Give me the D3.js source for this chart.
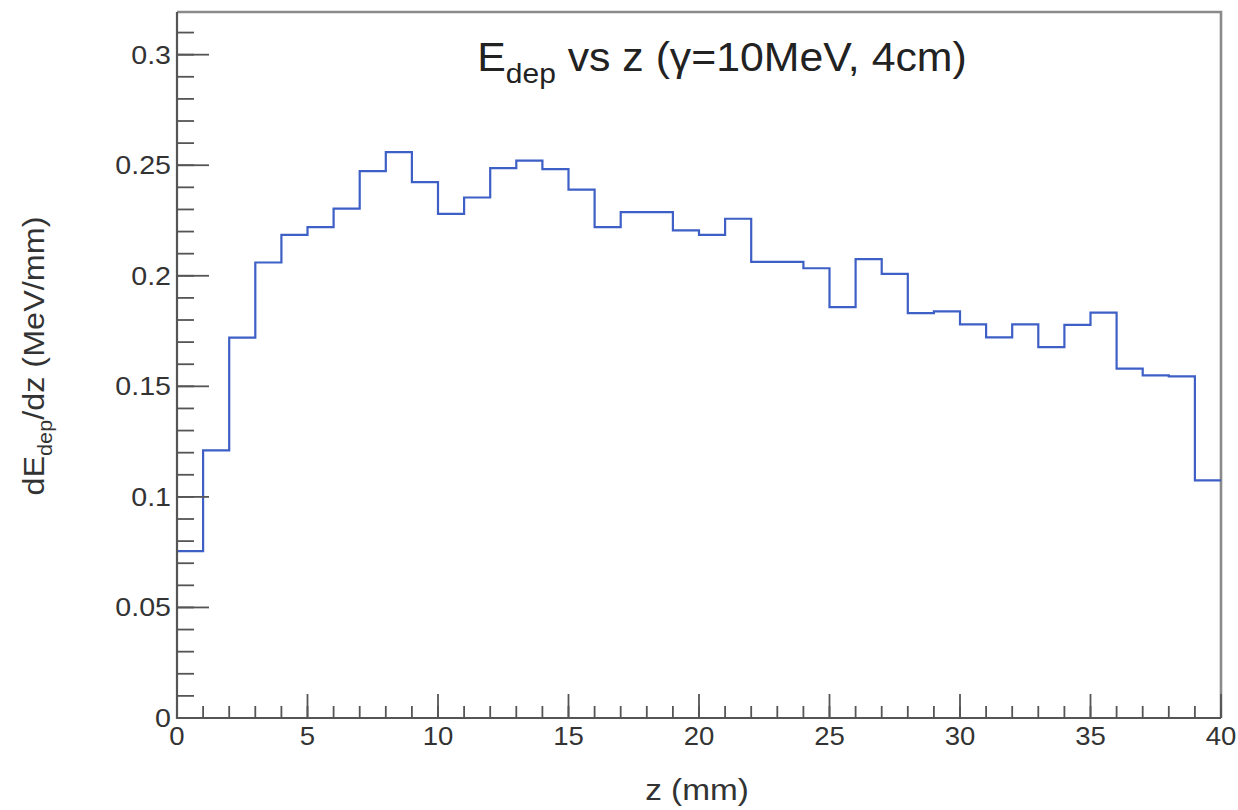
<!DOCTYPE html>
<html>
<head>
<meta charset="utf-8">
<script src="https://cdn.jsdelivr.net/npm/d3@7"></script>
<style>
  html, body { margin: 0; padding: 0; background: #fff; }
  svg { display: block; font-family: "Liberation Sans", Arial, Helvetica, sans-serif; }
</style>
</head>
<body>
<svg id="chart" width="1238" height="810"></svg>
<script>
// Energy deposit per mm along z, 1 mm bins from 0 to 40 mm
const binEdges = d3.range(0, 41);
const dEdz = [
  0.0755, 0.121, 0.172, 0.206, 0.2185, 0.222, 0.2304, 0.2473, 0.2559, 0.2424,
  0.228, 0.2354, 0.2487, 0.2521, 0.2482, 0.239, 0.222, 0.2288, 0.2288, 0.2205,
  0.2185, 0.2258, 0.2063, 0.2063, 0.2034, 0.1858, 0.2075, 0.2009, 0.1831, 0.1839,
  0.178, 0.1721, 0.178, 0.1677, 0.1778, 0.1833, 0.158, 0.155, 0.1545, 0.1075
];
const xMajorTicks = [0, 5, 10, 15, 20, 25, 30, 35, 40];
const xMinorTicks = d3.range(0, 41);
const yMajorTicks = [0, 0.05, 0.1, 0.15, 0.2, 0.25, 0.3];
const yMinorTicks = d3.range(0, 32).map(i => i / 100);
const yTickLabels = ["0", "0.05", "0.1", "0.15", "0.2", "0.25", "0.3"];

const svg = d3.select("#chart");
const m = { left: 177, right: 1221, top: 12, bottom: 718 };

const x = d3.scaleLinear().domain([0, 40]).range([m.left, m.right]);
const y = d3.scaleLinear().domain([0, 0.3193]).range([m.bottom, m.top]);

const axisColor = "#555";
const textColor = "#333";

// frame (top and right sides)
svg.append("path")
  .attr("d", `M${m.left},${m.top}H${m.right}V${m.bottom}`)
  .attr("fill", "none")
  .attr("stroke", "#8a8a8a")
  .attr("stroke-width", 2.6);

// histogram outline as a step path
const pts = [];
dEdz.forEach((v, i) => {
  pts.push([binEdges[i], v]);
  pts.push([binEdges[i + 1], v]);
});
const line = d3.line().x(d => x(d[0])).y(d => y(d[1]));
svg.append("path")
  .datum(pts)
  .attr("d", line)
  .attr("fill", "none")
  .attr("stroke", "#3d5fc6")
  .attr("stroke-width", 2.2);

// y axis: ticks point into the plot
const yAxis = svg.append("g");
yAxis.selectAll("line.minor").data(yMinorTicks).join("line")
  .attr("class", "minor")
  .attr("x1", m.left).attr("x2", m.left + 17)
  .attr("y1", d => y(d)).attr("y2", d => y(d))
  .attr("stroke", axisColor).attr("stroke-width", 1.8);
yAxis.selectAll("line.major").data(yMajorTicks).join("line")
  .attr("class", "major")
  .attr("x1", m.left).attr("x2", m.left + 32)
  .attr("y1", d => y(d)).attr("y2", d => y(d))
  .attr("stroke", axisColor).attr("stroke-width", 1.8);
yAxis.selectAll("text").data(yMajorTicks).join("text")
  .attr("transform", d => `translate(${m.left - 6},${y(d) + 9}) scale(1.1,1)`)
  .attr("text-anchor", "end")
  .attr("font-size", 26)
  .attr("fill", textColor)
  .text((d, i) => yTickLabels[i]);

// x axis: ticks point upward
const xAxis = svg.append("g");
xAxis.selectAll("line.minor").data(xMinorTicks).join("line")
  .attr("class", "minor")
  .attr("x1", d => x(d)).attr("x2", d => x(d))
  .attr("y1", m.bottom).attr("y2", m.bottom - 12)
  .attr("stroke", axisColor).attr("stroke-width", 1.8);
xAxis.selectAll("line.major").data(xMajorTicks).join("line")
  .attr("class", "major")
  .attr("x1", d => x(d)).attr("x2", d => x(d))
  .attr("y1", m.bottom).attr("y2", m.bottom - 24)
  .attr("stroke", axisColor).attr("stroke-width", 1.8);
xAxis.selectAll("text").data(xMajorTicks).join("text")
  .attr("transform", d => `translate(${x(d)},745) scale(1.06,1)`)
  .attr("text-anchor", "middle")
  .attr("font-size", 26)
  .attr("fill", textColor)
  .text(d => d);

// axis lines
svg.append("path")
  .attr("d", `M${m.left},${m.top}V${m.bottom}H${m.right}`)
  .attr("fill", "none")
  .attr("stroke", axisColor)
  .attr("stroke-width", 2.2);

// axis titles
svg.append("text")
  .attr("transform", "translate(697,800) scale(1.15,1)")
  .attr("text-anchor", "middle")
  .attr("font-size", 29)
  .attr("fill", textColor)
  .text("z (mm)");

const yTitle = svg.append("text")
  .attr("transform", "translate(44,356) rotate(-90) scale(1.08,1)")
  .attr("text-anchor", "middle")
  .attr("font-size", 30)
  .attr("fill", textColor);
yTitle.append("tspan").text("dE");
yTitle.append("tspan").attr("font-size", 20).attr("dy", 8).text("dep");
yTitle.append("tspan").attr("dy", -8).text("/dz (MeV/mm)");

// plot title
const title = svg.append("text")
  .attr("transform", "translate(722,71) scale(1.07,1)")
  .attr("text-anchor", "middle")
  .attr("font-size", 40)
  .attr("fill", "#222");
title.append("tspan").text("E");
title.append("tspan").attr("font-size", 28).attr("dy", 12).text("dep");
title.append("tspan").attr("dy", -12).text(" vs z (γ=10MeV, 4cm)");
</script>
</body>
</html>
